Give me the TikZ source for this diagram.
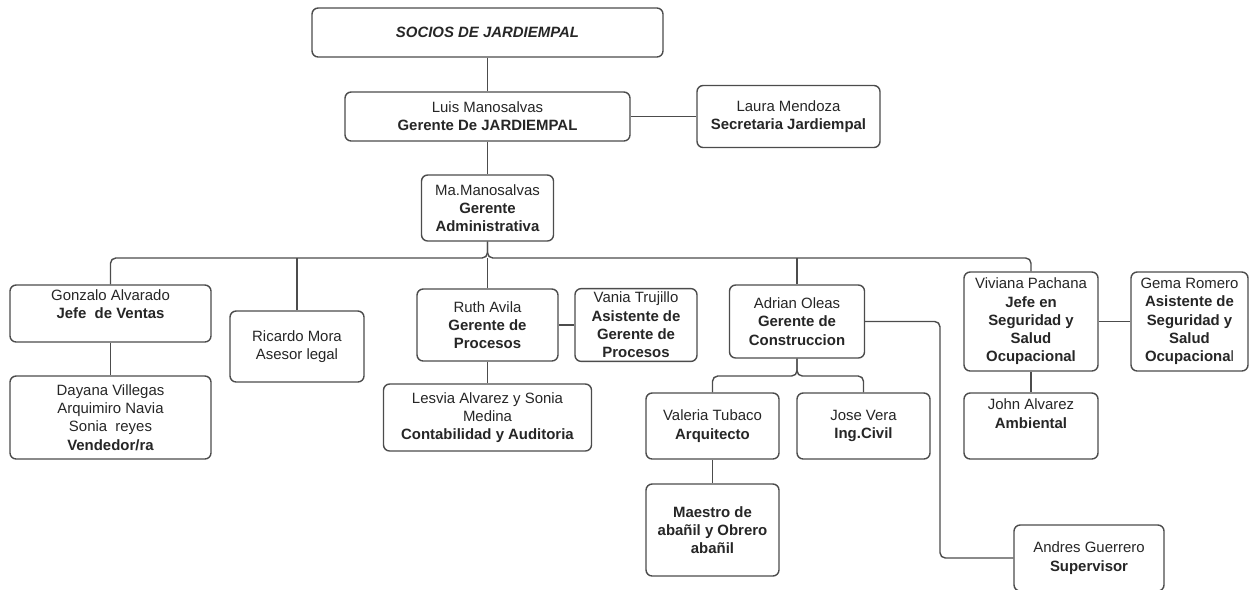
\documentclass[tikz,border=0pt]{standalone}
\usepackage{fontspec}
\setmainfont{Liberation Sans}
\usepackage{tikz}
\newcommand\orgfont{\fontsize{8.5}{10.4}\selectfont\color{black!85}}

\begin{document}
\begin{tikzpicture}
  [x=0.02cm,y=-0.02cm,
   every node/.style={draw=black!70,line width=0.8pt,rounded corners=3.5pt,fill=white,align=center,inner sep=2pt,font=\orgfont},
   boxsize/.style 2 args={minimum width=#1*0.02cm,minimum height=#2*0.02cm},
   link/.style={draw=black!70,line width=0.8pt,rounded corners=3pt}]
  \useasboundingbox (0,0) rectangle (1250,589);
  \node[boxsize={351}{49}] (socios) at (487.5,32.5) {\textbf{\textit{SOCIOS DE JARDIEMPAL}}};
  \node[boxsize={285}{49}] (luis) at (487.5,116.5) {Luis Manosalvas\\\textbf{Gerente De JARDIEMPAL}};
  \node[boxsize={183}{62}] (laura) at (788.5,116.5) {Laura Mendoza\\\textbf{Secretaria Jardiempal}};
  \node[boxsize={132}{66}] (ma) at (487.5,208) {Ma.Manosalvas\\\textbf{Gerente}\\\textbf{Administrativa}};
  % primera fila
  \node[boxsize={201}{57},text depth=10.5pt] (gonzalo) at (110.5,313.5) {Gonzalo Alvarado\\\textbf{Jefe\ \ de Ventas}};
  \node[boxsize={201}{83}] (dayana) at (110.5,417.5) {Dayana Villegas\\Arquimiro Navia\\Sonia\ \ reyes\\\textbf{Vendedor/ra}};
  \node[boxsize={134}{71}] (ricardo) at (297,346.5) {Ricardo Mora\\Asesor legal};
  \node[boxsize={141}{72}] (ruth) at (487.5,325) {Ruth Avila\\\textbf{Gerente de}\\\textbf{Procesos}};
  \node[boxsize={122}{72}] (vania) at (636,325) {Vania Trujillo\\\textbf{Asistente de}\\\textbf{Gerente de}\\\textbf{Procesos}};
  \node[boxsize={208}{67}] (lesvia) at (487.5,417.5) {Lesvia Alvarez y Sonia\\Medina\\\textbf{Contabilidad y Auditoria}};
  \node[boxsize={135}{73}] (adrian) at (797,321.5) {Adrian Oleas\\\textbf{Gerente de}\\\textbf{Construccion}};
  \node[boxsize={133}{66}] (valeria) at (712.5,426) {Valeria Tubaco\\\textbf{Arquitecto}};
  \node[boxsize={133}{66}] (jose) at (863.5,426) {Jose Vera\\\textbf{Ing.Civil}};
  \node[boxsize={133}{92}] (maestro) at (712.5,530) {\textbf{Maestro de}\\\textbf{aba\~nil y Obrero}\\\textbf{aba\~nil}};
  \node[boxsize={134}{99}] (viviana) at (1031,321.5) {Viviana Pachana\\\textbf{Jefe en}\\\textbf{Seguridad y}\\\textbf{Salud}\\\textbf{Ocupacional}};
  \node[boxsize={117}{99}] (gema) at (1189.5,321.5) {Gema Romero\\\textbf{Asistente de}\\\textbf{Seguridad y}\\\textbf{Salud}\\\textbf{Ocupaciona}l};
  \node[boxsize={134}{66},text depth=14pt] (john) at (1031,426) {John Alvarez\\\textbf{Ambiental}};
  \node[boxsize={150}{66}] (andres) at (1089,558) {Andres Guerrero\\\textbf{Supervisor}};
  \coordinate (bus) at (487.5,258);
  \coordinate (split) at (797,376);
  \coordinate (bend) at (940,558);
\foreach \from/\to in
{socios/luis, luis/laura, luis/ma, gonzalo/dayana, ruth/vania, ruth/lesvia,
 valeria/maestro, viviana/gema, viviana/john, ruth/bus}
    \draw[link] (\from) -- (\to);
\foreach \n in {gonzalo, viviana}
    \draw[link] (ma.south) -- (bus) -| (\n.north);
\foreach \n in {ricardo, adrian}
    \draw[link] (\n.north) -- (\n.north |- bus);
\foreach \n in {valeria, jose}
    \draw[link] (adrian.south) -- (split) -| (\n.north);
  \draw[link] (adrian.east) -| (bend) -- (andres.west);
\end{tikzpicture}
\end{document}
